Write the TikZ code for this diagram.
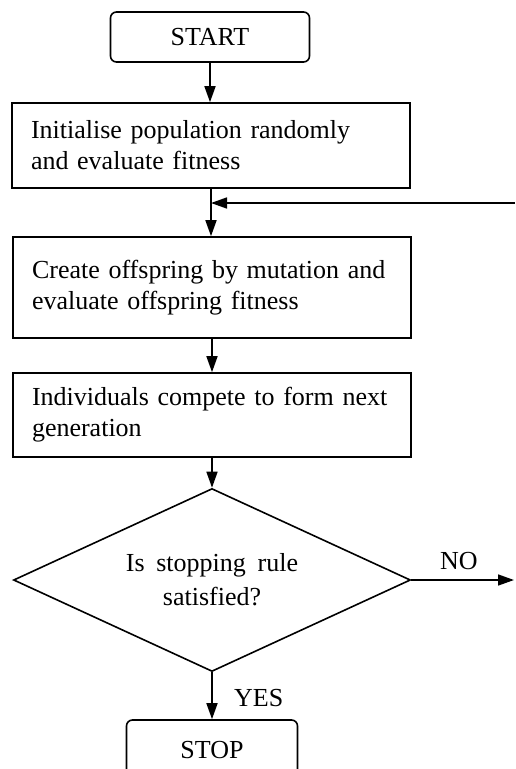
\documentclass[tikz,border=0pt]{standalone}
\usepackage{fontspec}
\setmainfont{Liberation Serif}
\usetikzlibrary{shapes.geometric,arrows.meta}
\newcommand{\widesp}{\spaceskip=0.45em plus 0.1em\relax}
\begin{document}
\begin{tikzpicture}[x=1pt,y=-1pt,line width=1.6pt,
  every node/.style={font=\fontsize{26}{31}\selectfont},
  stepbox/.style={draw,rectangle,minimum width=398pt,text width=360pt,align=left,inner sep=0pt},
  termbox/.style={draw,rectangle,rounded corners=6pt,inner sep=0pt},
  decision/.style={draw,diamond,aspect=2.17,inner sep=0pt,minimum width=397pt,minimum height=183pt,
    align=center,font=\fontsize{26}{34}\selectfont},
  flow/.style={-{Triangle[length=16pt,width=11pt]}},
  lbl/.style={anchor=base}]
\useasboundingbox (0,0) rectangle (515,769);
\clip (0,0) rectangle (515,769);

% terminals
\node[termbox,minimum width=199pt,minimum height=50pt] (start) at (210,37) {START};
\node[termbox,minimum width=171pt,minimum height=60pt] (stop) at (212,750) {STOP};

% process steps
\node[stepbox,minimum height=85pt] (init) at (211,145.5)
  {Initialise population randomly\\and evaluate fitness};
\node[stepbox,minimum height=101pt] (mutate) at (212,287.5)
  {Create offspring by mutation and\\evaluate offspring fitness\\[6pt]};
\node[stepbox,minimum height=84pt] (compete) at (212,415)
  {Individuals compete to form next\\generation};

% decision
\node[decision] (test) at (212,580) {\widesp Is stopping rule\\satisfied?};

% loop-back entry and NO exit
\coordinate (loopin) at (515,203);
\coordinate (noexit) at (514,580);

% connectors
\draw[flow] (start) -- (start |- init.north);
\draw[flow] (init.south) -- (init.south |- mutate.north);
\draw[flow] (loopin) -- (init.south |- loopin);
\draw[flow] (mutate.south) -- (mutate.south |- compete.north);
\draw[flow] (compete.south) -- (test.north);
\draw[flow] (test.east) -- (noexit);
\draw[flow] (test.south) -- (test.south |- stop.north);

% branch labels
\node[lbl] at (459,569) {NO};
\node[lbl,anchor=base west] at (230,706) {YES};
\end{tikzpicture}
\end{document}
